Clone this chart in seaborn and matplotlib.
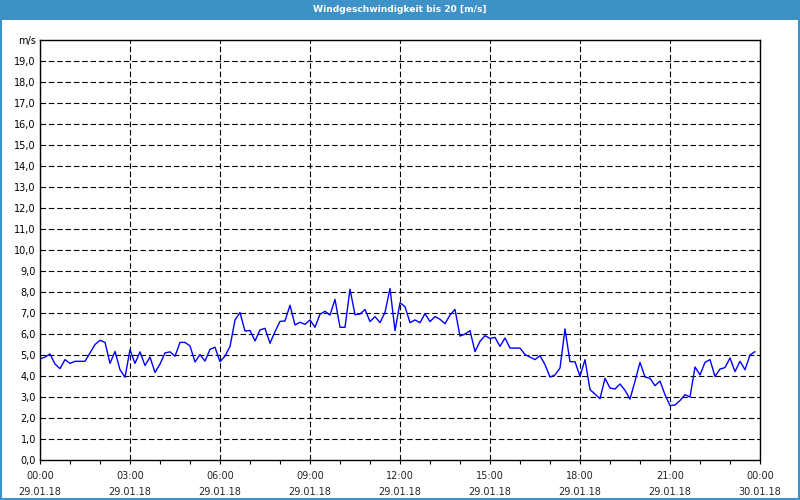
import numpy as np
import pandas as pd
import matplotlib
matplotlib.use("Agg")
import matplotlib.pyplot as plt
import matplotlib.dates as mdates
from matplotlib.patches import Rectangle
import seaborn as sns

title = "Windgeschwindigkeit bis 20 [m/s]"
unit = "m/s"
start = "2018-01-29 00:00"
end = "2018-01-30 00:00"
step = "10min"

speed = [
    4.81, 4.90, 5.05, 4.57, 4.35, 4.78, 4.60, 4.70, 4.70, 4.70,
    5.10, 5.50, 5.70, 5.60, 4.60, 5.17, 4.30, 3.94, 5.25, 4.60,
    5.15, 4.50, 4.90, 4.17, 4.57, 5.10, 5.15, 4.94, 5.60, 5.60,
    5.43, 4.67, 5.02, 4.71, 5.27, 5.37, 4.68, 4.95, 5.40, 6.67,
    7.02, 6.14, 6.17, 5.67, 6.19, 6.27, 5.56, 6.11, 6.60, 6.62,
    7.37, 6.43, 6.56, 6.46, 6.67, 6.32, 6.94, 7.08, 6.90, 7.65,
    6.32, 6.32, 8.13, 6.92, 6.95, 7.17, 6.59, 6.83, 6.54, 7.03,
    8.17, 6.16, 7.49, 7.30, 6.54, 6.67, 6.54, 6.97, 6.59, 6.83,
    6.70, 6.49, 6.90, 7.17, 5.90, 6.00, 6.16, 5.16, 5.65, 5.92,
    5.79, 5.84, 5.41, 5.81, 5.33, 5.33, 5.33, 5.02, 4.90, 4.78,
    4.97, 4.54, 3.95, 4.05, 4.38, 6.24, 4.68, 4.68, 3.98, 4.78,
    3.35, 3.14, 2.92, 3.89, 3.43, 3.38, 3.62, 3.32, 2.90, 3.75,
    4.65, 3.95, 3.89, 3.54, 3.76, 3.11, 2.59, 2.62, 2.83, 3.11,
    3.00, 4.43, 4.05, 4.65, 4.78, 3.98, 4.33, 4.40, 4.86, 4.21,
    4.70, 4.30, 5.00, 5.16,
]
times = pd.date_range(start, periods=len(speed), freq=step)
df = pd.DataFrame({"time": times, "speed": speed})

y_ticks = list(range(0, 21))
y_labels = [f"{v},0" for v in y_ticks[:-1]] + [unit]

sns.set_style("white")
plt.rcParams["font.family"] = ["DejaVu Sans"]

fig = plt.figure(figsize=(8, 5), dpi=100)
fig.patch.set_facecolor("white")
ax = fig.add_axes([0.05, 0.08, 0.90, 0.84])

# title bar and frame
fig.patches.append(Rectangle((0, 0.96), 1, 0.04, transform=fig.transFigure,
                             facecolor="#3E92C8", edgecolor="none", zorder=0))
fig.patches.append(Rectangle((0.001, 0.002), 0.998, 0.996, transform=fig.transFigure,
                             facecolor="none", edgecolor="#3E92C8", linewidth=1.5, zorder=1))
fig.text(0.5, 0.98, title, color="white", ha="center", va="center",
         fontsize=6.6, fontweight="bold")

sns.lineplot(data=df, x="time", y="speed", ax=ax, color="#0000FF", linewidth=1.0)

ax.set_xlim(pd.Timestamp(start), pd.Timestamp(end))
ax.set_ylim(0, 20)
ax.set_xlabel("")
ax.set_ylabel("")

ax.set_yticks(y_ticks)
ax.set_yticklabels(y_labels)
ax.tick_params(axis="y", length=0, pad=3, labelsize=7, labelcolor="black")

ax.xaxis.set_major_locator(mdates.HourLocator(byhour=range(0, 24, 3)))
ax.xaxis.set_minor_locator(mdates.HourLocator())
ax.xaxis.set_major_formatter(mdates.DateFormatter("%H:%M\n%d.%m.%y"))
ax.tick_params(axis="x", which="both", length=3, width=0.8, color="black",
               direction="out", bottom=True, labelsize=7, pad=5)
for lbl in ax.get_xticklabels():
    lbl.set_linespacing(1.75)

dash = (0, (5, 2.5))
ax.grid(False)
for y in y_ticks[1:-1]:
    ax.axhline(y, color="black", linewidth=0.8, linestyle=dash, zorder=1)
ax.xaxis.grid(True, which="major", color="black", linewidth=0.8, linestyle=dash)
ax.set_axisbelow(True)

for s in ax.spines.values():
    s.set_visible(True)
    s.set_color("black")
    s.set_linewidth(1.0)

fig.savefig("out.png", dpi=100)
